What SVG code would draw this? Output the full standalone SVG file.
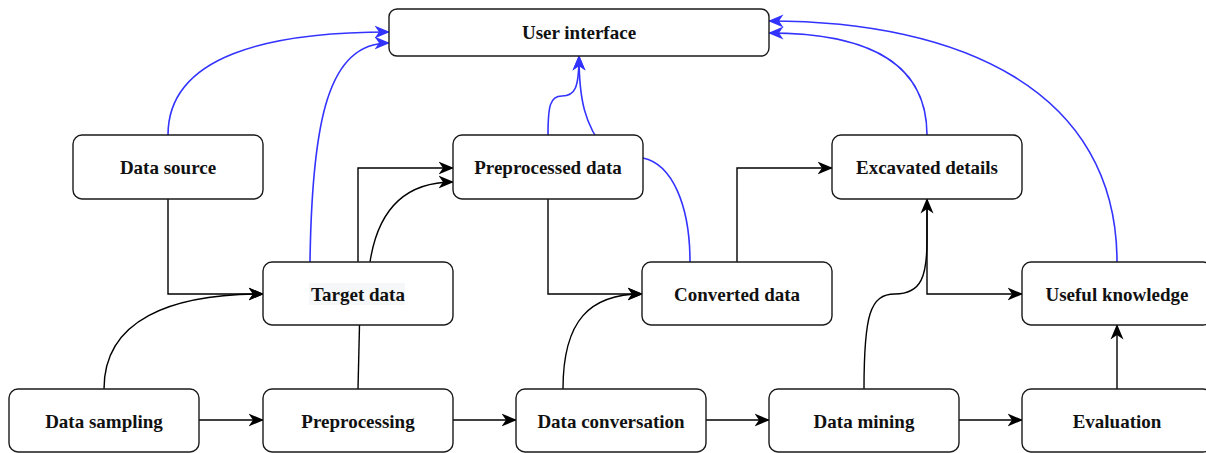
<svg xmlns="http://www.w3.org/2000/svg" width="1206" height="453" viewBox="0 0 1206 453">
  <style>
    .box { fill: #ffffff; stroke: #1a1a1a; stroke-width: 1.4; }
    .lbl { font-family: "Liberation Serif", "Times New Roman", serif; font-weight: bold; font-size: 19px; fill: #111111; text-anchor: middle; }
    .k { fill: none; stroke: #000000; stroke-width: 1.4; }
    .b { fill: none; stroke: #3333ff; stroke-width: 1.6; }
  </style>
  <defs>
    <marker id="arrK" markerUnits="userSpaceOnUse" markerWidth="16" markerHeight="14" refX="14.5" refY="7" orient="auto" viewBox="0 0 16 14">
      <path d="M0,0.5 L15.5,7 L0,13.5 L4.5,7 Z" fill="#000000"/>
    </marker>
    <marker id="arrB" markerUnits="userSpaceOnUse" markerWidth="16" markerHeight="14" refX="14.5" refY="7" orient="auto" viewBox="0 0 16 14">
      <path d="M0,0.5 L15.5,7 L0,13.5 L4.5,7 Z" fill="#3333ff"/>
    </marker>
  </defs>

  <rect width="1206" height="453" fill="#ffffff"/>

  <!-- connectors -->
  <g id="connectors">
    <!-- black flow -->
    <path class="k" d="M168,199 L168,294 L263,294" marker-end="url(#arrK)"/>
    <path class="k" d="M104,389 C104,320 170,294 263,294" marker-end="url(#arrK)"/>
    <path class="k" d="M199,420 L263,420" marker-end="url(#arrK)"/>
    <path class="k" d="M358,389 L359.5,325"/>
    <path class="k" d="M358,262 L358,168 L453,168" marker-end="url(#arrK)"/>
    <path class="k" d="M370,262 C378,210 405,182 453,182" marker-end="url(#arrK)"/>
    <path class="k" d="M548,199 L548,294 L642,294" marker-end="url(#arrK)"/>
    <path class="k" d="M563,389 C563,320 590,294 642,294" marker-end="url(#arrK)"/>
    <path class="k" d="M453,420 L516,420" marker-end="url(#arrK)"/>
    <path class="k" d="M706,420 L769,420" marker-end="url(#arrK)"/>
    <path class="k" d="M737,262 L737,168 L832,168" marker-end="url(#arrK)"/>
    <path class="k" d="M864,389 C864,315 870,294 895,294 C922,294 927,275 927,240 L927,199" marker-end="url(#arrK)"/>
    <path class="k" d="M927,199 L927,294 L1022,294" marker-end="url(#arrK)"/>
    <path class="k" d="M959,420 L1022,420" marker-end="url(#arrK)"/>
    <path class="k" d="M1117,389 L1117,325" marker-end="url(#arrK)"/>

    <!-- blue links to the user interface -->
    <path class="b" d="M168,135 C168,55 270,32 389,32" marker-end="url(#arrB)"/>
    <path class="b" d="M310,262 C312,120 328,43 389,43" marker-end="url(#arrB)"/>
    <path class="b" d="M548,135 C548,106 550,96 562,96 C575,96 579,88 579,56" marker-end="url(#arrB)"/>
    <path class="b" d="M690,262 C690,205 672,164 643,158 L605,150 C585,125 579,100 579,56" marker-end="url(#arrB)"/>
    <path class="b" d="M927,135 C927,55 855,33 769,33" marker-end="url(#arrB)"/>
    <path class="b" d="M1117,262 C1117,90 960,21 769,21" marker-end="url(#arrB)"/>
  </g>

  <!-- nodes -->
  <g id="user-interface">
    <rect class="box" x="389" y="9" width="380" height="47" rx="8"/>
    <text class="lbl" x="579" y="39">User interface</text>
  </g>
  <g id="data-source">
    <rect class="box" x="73" y="135" width="190" height="64" rx="9"/>
    <text class="lbl" x="168" y="174">Data source</text>
  </g>
  <g id="preprocessed-data">
    <rect class="box" x="453" y="135" width="190" height="64" rx="9"/>
    <text class="lbl" x="548" y="174">Preprocessed data</text>
  </g>
  <g id="excavated-details">
    <rect class="box" x="832" y="135" width="190" height="64" rx="9"/>
    <text class="lbl" x="927" y="174">Excavated details</text>
  </g>
  <g id="target-data">
    <rect class="box" x="263" y="262" width="190" height="63" rx="9"/>
    <rect x="309" y="283" width="96" height="22" fill="#f6f7f9"/>
    <text class="lbl" x="358" y="301">Target data</text>
  </g>
  <g id="converted-data">
    <rect class="box" x="642" y="262" width="190" height="63" rx="9"/>
    <text class="lbl" x="737" y="301">Converted data</text>
  </g>
  <g id="useful-knowledge">
    <rect class="box" x="1022" y="262" width="190" height="63" rx="9"/>
    <text class="lbl" x="1117" y="301">Useful knowledge</text>
  </g>
  <g id="data-sampling">
    <rect class="box" x="9" y="389" width="190" height="63" rx="9"/>
    <text class="lbl" x="104" y="428">Data sampling</text>
  </g>
  <g id="preprocessing">
    <rect class="box" x="263" y="389" width="190" height="63" rx="9"/>
    <text class="lbl" x="358" y="428">Preprocessing</text>
  </g>
  <g id="data-conversation">
    <rect class="box" x="516" y="389" width="190" height="63" rx="9"/>
    <text class="lbl" x="611" y="428">Data conversation</text>
  </g>
  <g id="data-mining">
    <rect class="box" x="769" y="389" width="190" height="63" rx="9"/>
    <text class="lbl" x="864" y="428">Data mining</text>
  </g>
  <g id="evaluation">
    <rect class="box" x="1022" y="389" width="190" height="63" rx="9"/>
    <text class="lbl" x="1117" y="428">Evaluation</text>
  </g>
</svg>
